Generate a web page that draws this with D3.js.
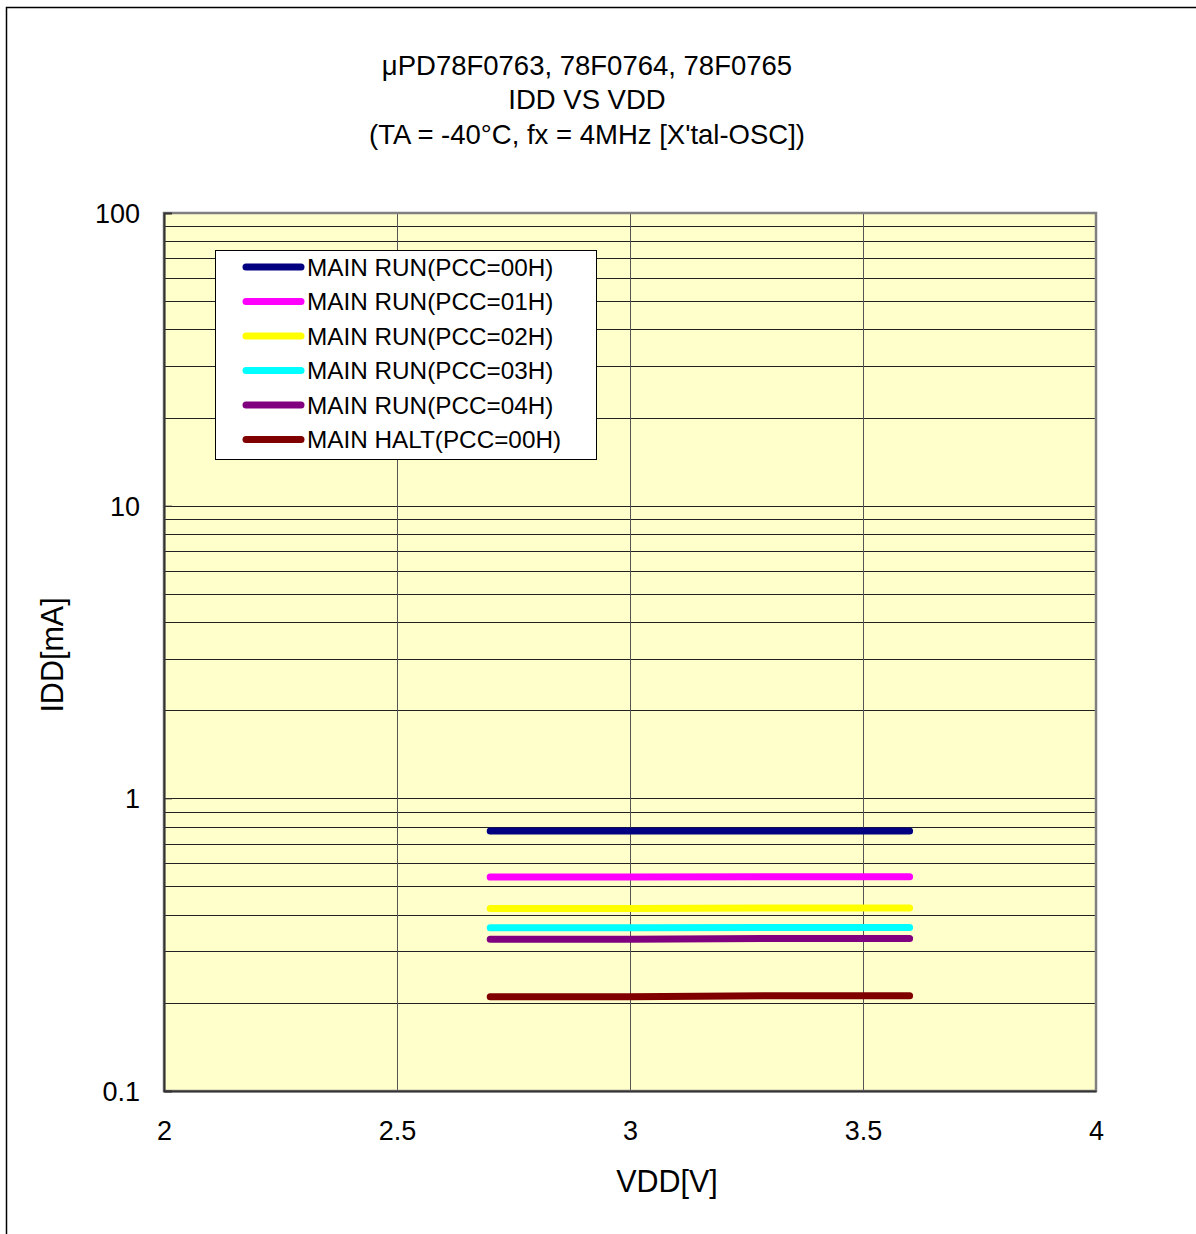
<!DOCTYPE html>
<html><head><meta charset="utf-8">
<script src="https://cdn.jsdelivr.net/npm/d3@7"></script>
<style>body{margin:0;background:#fff;}svg{display:block;font-family:"Liberation Sans",Arial,sans-serif;}</style>
</head><body>
<svg id="c" width="1196" height="1234"></svg>
<script>
const titleLines = ["μPD78F0763, 78F0764, 78F0765", "IDD VS VDD", "(TA = -40°C, fx = 4MHz [X'tal-OSC])"];
const xLabel = "VDD[V]";
const yLabel = "IDD[mA]";
const vdd = [2.7, 3.0, 3.3, 3.6];
const seriesNames = ["MAIN RUN(PCC=00H)", "MAIN RUN(PCC=01H)", "MAIN RUN(PCC=02H)", "MAIN RUN(PCC=03H)", "MAIN RUN(PCC=04H)", "MAIN HALT(PCC=00H)"];
const seriesColors = ["#000080", "#FF00FF", "#FFFF00", "#00FFFF", "#800080", "#800000"];
const run00 = [0.773, 0.773, 0.774, 0.774];
const run01 = [0.538, 0.539, 0.540, 0.540];
const run02 = [0.420, 0.420, 0.422, 0.422];
const run03 = [0.361, 0.361, 0.362, 0.362];
const run04 = [0.330, 0.330, 0.332, 0.332];
const halt00 = [0.210, 0.210, 0.2115, 0.2115];
const seriesValues = [run00, run01, run02, run03, run04, halt00];
const xTicks = [2, 2.5, 3, 3.5, 4];
const yTicks = [0.1, 1, 10, 100];

const svg = d3.select("#c");
// outer frame
svg.append("rect").attr("x", 6.5).attr("y", 7.5).attr("width", 1300).attr("height", 1300)
  .attr("fill", "none").attr("stroke", "#000").attr("stroke-width", 1.5);

const L = 164, R = 1096, T = 213, B = 1091;
const x = d3.scaleLinear().domain([2, 4]).range([L, R]);
const y = d3.scaleLog().domain([0.1, 100]).range([B, T]);

// title
svg.append("g").selectAll("text").data(titleLines).join("text")
  .attr("x", 587).attr("y", (d, i) => 75 + i * 34.3)
  .attr("text-anchor", "middle").attr("font-size", 27.5).attr("fill", "#000").text(d => d);

// plot bg
svg.append("rect").attr("x", L).attr("y", T).attr("width", R - L).attr("height", B - T).attr("fill", "#FFFFCC");

// horizontal grid (minor + major)
const hGrid = [];
[0.1, 1, 10].forEach(dec => { for (let k = 1; k <= 9; k++) hGrid.push(dec * k); });
svg.append("g").selectAll("line").data(hGrid.filter(v => v > 0.1 && v < 100)).join("line")
  .attr("x1", L).attr("x2", R).attr("y1", d => Math.round(y(d)) + 0.5).attr("y2", d => Math.round(y(d)) + 0.5)
  .attr("stroke", "#222").attr("stroke-width", 1);

// vertical grid
svg.append("g").selectAll("line").data(xTicks.filter(v => v > 2 && v < 4)).join("line")
  .attr("y1", T).attr("y2", B).attr("x1", d => Math.round(x(d)) + 0.5).attr("x2", d => Math.round(x(d)) + 0.5)
  .attr("stroke", "#555").attr("stroke-width", 1);

// frame
svg.append("rect").attr("x", L).attr("y", T).attr("width", R - L).attr("height", B - T)
  .attr("fill", "none").attr("stroke", "#808080").attr("stroke-width", 2.5);

// axes
const yAxis = d3.axisLeft(y).tickValues(yTicks).tickFormat(d => d3.format("~g")(d)).tickSize(-8).tickPadding(24);
const gy = svg.append("g").attr("transform", `translate(${L},0)`).call(yAxis);
const xAxis = d3.axisBottom(x).tickValues(xTicks).tickFormat(d => d3.format("~g")(d)).tickSize(0).tickPadding(30);
const gx = svg.append("g").attr("transform", `translate(0,${B})`).call(xAxis);
[gx, gy].forEach(g => {
  g.selectAll("text").attr("font-size", 27).attr("fill", "#000").attr("font-family", "Liberation Sans, Arial, sans-serif");
  g.selectAll("line").attr("stroke", "#333");
});
gy.select(".domain").attr("stroke", "#333").attr("stroke-width", 2);
gx.select(".domain").attr("stroke", "#333").attr("stroke-width", 2);
gy.selectAll(".tick text").attr("dy", "0.35em");

// axis titles
svg.append("text").attr("x", 667).attr("y", 1192).attr("text-anchor", "middle").attr("font-size", 30.5).text(xLabel);
svg.append("text").attr("transform", "translate(63,655) rotate(-90)").attr("text-anchor", "middle").attr("font-size", 30.5).text(yLabel);

// series
const line = d3.line().x((d, i) => x(vdd[i])).y(d => y(d));
svg.append("g").selectAll("path").data(seriesValues).join("path")
  .attr("d", d => line(d)).attr("fill", "none").attr("stroke", (d, i) => seriesColors[i])
  .attr("stroke-width", 7).attr("stroke-linecap", "round").attr("stroke-linejoin", "round");

// legend
const lg = svg.append("g");
lg.append("rect").attr("x", 215.5).attr("y", 250.5).attr("width", 381).attr("height", 209)
  .attr("fill", "#fff").attr("stroke", "#000").attr("stroke-width", 1);
const rows = lg.selectAll("g").data(seriesNames).join("g")
  .attr("transform", (d, i) => `translate(0,${267 + i * 34.5})`);
rows.append("line").attr("x1", 246).attr("x2", 301).attr("y1", 0).attr("y2", 0)
  .attr("stroke", (d, i) => seriesColors[i]).attr("stroke-width", 7).attr("stroke-linecap", "round");
rows.append("text").attr("x", 307).attr("y", 0).attr("dy", "0.36em").attr("font-size", 24.3).attr("fill", "#000").text(d => d);
</script>
</body></html>
